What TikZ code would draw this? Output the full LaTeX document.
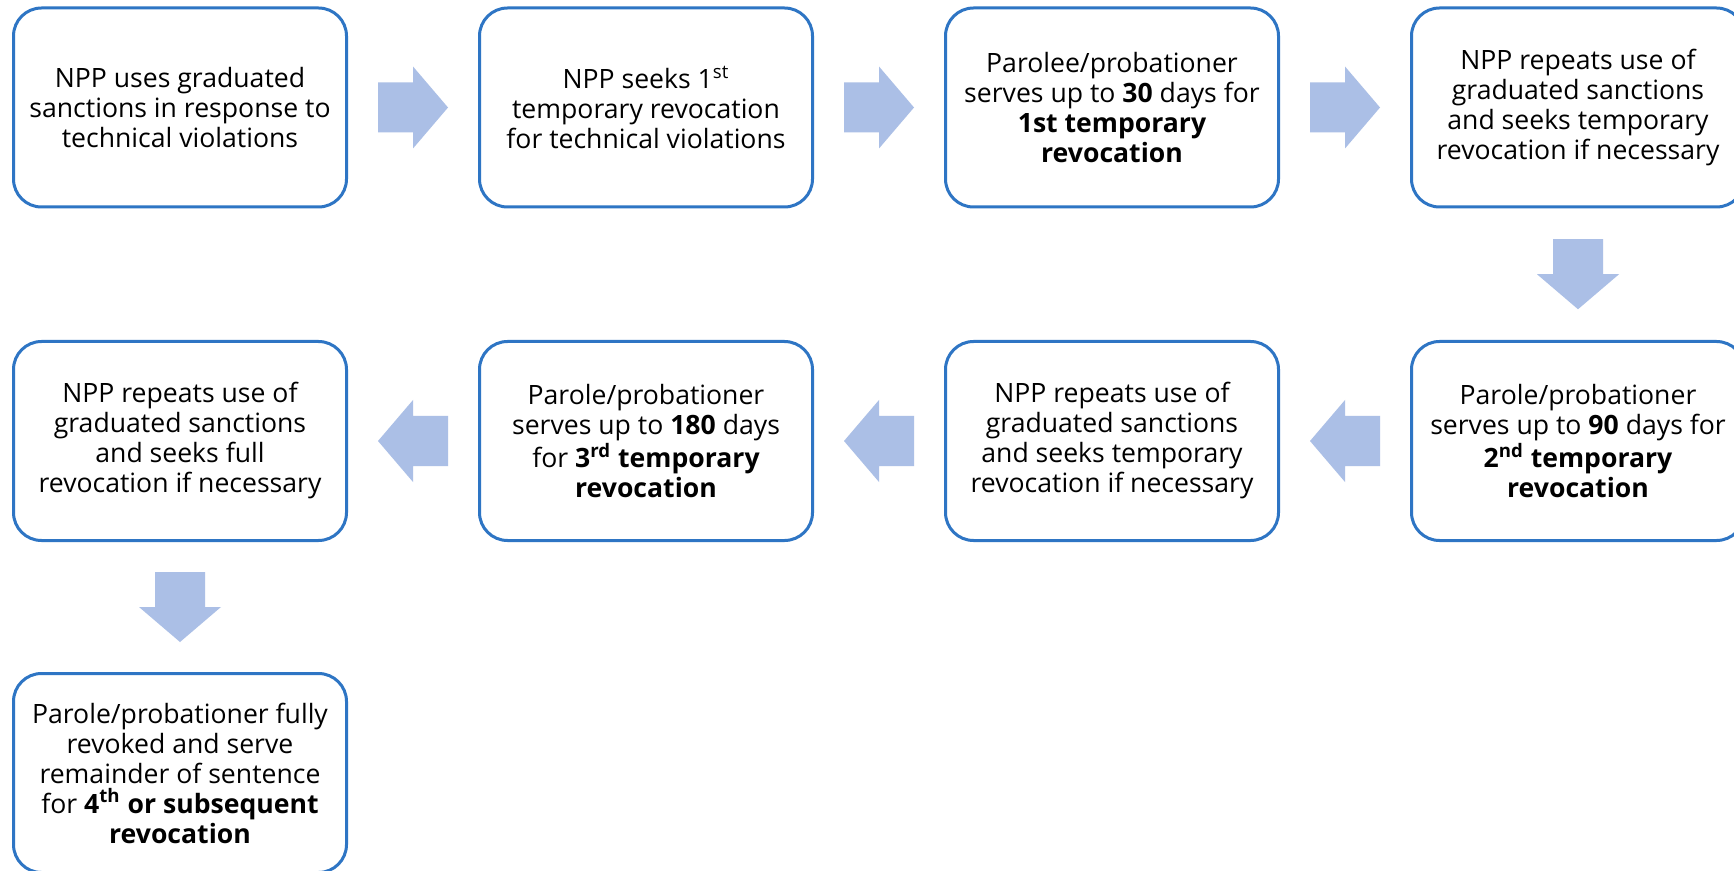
\documentclass[tikz,border=0pt]{standalone}
\usepackage{fontspec}
\setmainfont{Open Sans}
\usetikzlibrary{calc}
\definecolor{boxblue}{RGB}{46,117,196}
\definecolor{arrowblue}{RGB}{171,191,230}
\tikzset{
  stepbox/.style={draw=boxblue, line width=1.5pt, rounded corners=14pt, fill=white,
    minimum width=166.5pt, minimum height=99.5pt, align=center, inner sep=0pt,
    font=\fontsize{13.3}{15}\selectfont, text=black},
  blockarrow/.style={fill=arrowblue, draw=none}
}
\newcommand{\arrowright}[2]{\path[blockarrow] ($(#1.east)!0.5!(#2.west)$) ++(-35,-25) -- ++(35,0) -- ++(0,-16) -- ++(35,41) -- ++(-35,41) -- ++(0,-16) -- ++(-35,0) -- cycle;}
\newcommand{\arrowleft}[2]{\path[blockarrow] ($(#1.west)!0.5!(#2.east)$) ++(35,-25) -- ++(-35,0) -- ++(0,-16) -- ++(-35,41) -- ++(35,41) -- ++(0,-16) -- ++(35,0) -- cycle;}
\newcommand{\arrowdown}[2]{\path[blockarrow] ($(#1.south)!0.5!(#2.north)$) ++(-25,-35) -- ++(0,35) -- ++(-16,0) -- ++(41,35) -- ++(41,-35) -- ++(-16,0) -- ++(0,-35) -- cycle;}
\begin{document}
\begin{tikzpicture}[x=0.5pt,y=-0.5pt]
\useasboundingbox (0,0) rectangle (1734,871);
\fill[white] (0,0) rectangle (1734,871);
\clip (0,0) rectangle (1734,871);
% row 1
\node[stepbox] (b1) at (180,107.5) {NPP uses graduated\\sanctions in response to\\technical violations};
\node[stepbox] (b2) at (646,107.5) {NPP seeks 1\textsuperscript{st}\\temporary revocation\\for technical violations};
\node[stepbox] (b3) at (1112,107.5) {Parolee/probationer\\serves up to \textbf{30} days for\\\textbf{1st temporary}\\\textbf{revocation}};
\node[stepbox] (b4) at (1578,107.5) {NPP repeats use of\\graduated sanctions\\and seeks temporary\\revocation if necessary};
% row 2
\node[stepbox] (b5) at (1578,441) {Parole/probationer\\serves up to \textbf{90} days for\\\textbf{2\textsuperscript{nd} temporary}\\\textbf{revocation}};
\node[stepbox] (b6) at (1112,441) {NPP repeats use of\\graduated sanctions\\and seeks temporary\\revocation if necessary};
\node[stepbox] (b7) at (646,441) {Parole/probationer\\serves up to \textbf{180} days\\for \textbf{3\textsuperscript{rd} temporary}\\\textbf{revocation}};
\node[stepbox] (b8) at (180,441) {NPP repeats use of\\graduated sanctions\\and seeks full\\revocation if necessary};
% row 3
\node[stepbox] (b9) at (180,773) {Parole/probationer fully\\revoked and serve\\remainder of sentence\\for \textbf{4\textsuperscript{th} or subsequent}\\\textbf{revocation}};
% arrows
\arrowright{b1}{b2}
\arrowright{b2}{b3}
\arrowright{b3}{b4}
\arrowdown{b4}{b5}
\arrowleft{b5}{b6}
\arrowleft{b6}{b7}
\arrowleft{b7}{b8}
\arrowdown{b8}{b9}
\end{tikzpicture}
\end{document}
